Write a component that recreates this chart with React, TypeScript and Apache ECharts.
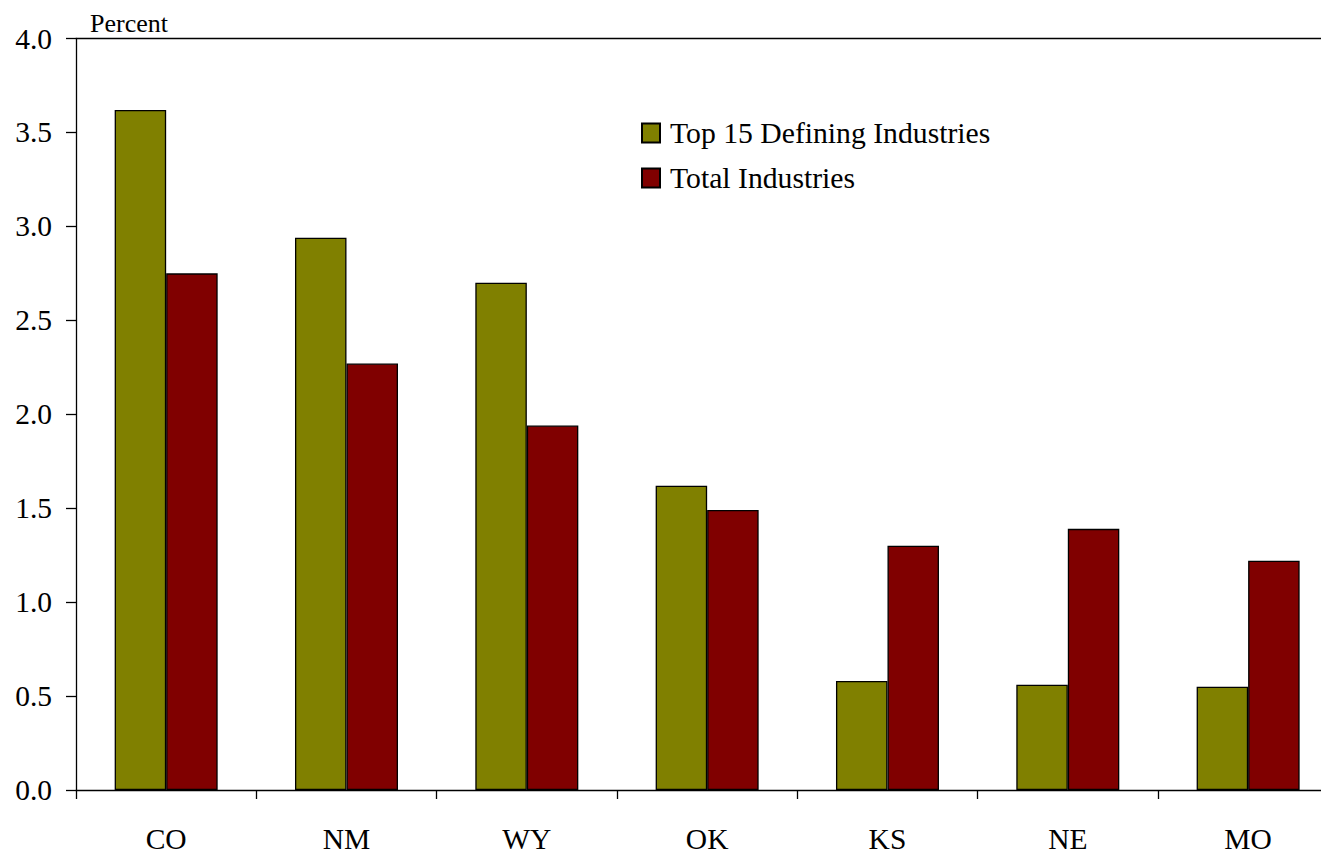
import React, { useEffect, useRef } from "react";
import * as echarts from "echarts";

// Employment growth by state, percent
const states = ["CO", "NM", "WY", "OK", "KS", "NE", "MO"];
const top15Defining = [3.62, 2.94, 2.7, 1.62, 0.58, 0.56, 0.55];
const totalIndustries = [2.75, 2.27, 1.94, 1.49, 1.3, 1.39, 1.22];
const seriesNames = ["Top 15 Defining Industries", "Total Industries"];
const yTicks = { min: 0, max: 4, interval: 0.5 };

const FONT = "'Liberation Serif', 'Times New Roman', serif";
const OLIVE = "#808000";
const MAROON = "#800000";

// The plot runs past the right edge of the visible frame
const CHART_W = 1345;
const CHART_H = 854;

export default function App() {
  const ref = useRef<HTMLDivElement>(null);

  useEffect(() => {
    if (!ref.current) return;
    const chart = echarts.init(ref.current, null, { renderer: "svg" });
    const axisLine = { show: true, lineStyle: { color: "#000", width: 1.3 } };
    chart.setOption({
      animation: false,
      backgroundColor: "#fff",
      title: {
        text: "Percent",
        left: 90,
        top: 10,
        padding: 0,
        textStyle: { fontFamily: FONT, fontSize: 26, fontWeight: "normal", color: "#000" },
      },
      legend: {
        data: seriesNames,
        orient: "vertical",
        left: 641,
        top: 118,
        padding: 0,
        icon: "rect",
        itemWidth: 18,
        itemHeight: 19,
        itemGap: 15,
        textStyle: { fontFamily: FONT, fontSize: 29.7, color: "#000", padding: [0, 0, 0, 5] },
      },
      grid: { left: 76, top: 38.5, bottom: 62.3, width: 1262.3, containLabel: false },
      xAxis: [
        {
          type: "category",
          data: states,
          position: "bottom",
          axisLine,
          axisTick: { show: true, length: 9, lineStyle: { color: "#000", width: 1.3 } },
          axisLabel: { fontFamily: FONT, fontSize: 29.5, color: "#000", margin: 34 },
          splitLine: { show: false },
        },
        {
          type: "category",
          data: states,
          position: "top",
          axisLine,
          axisTick: { show: false },
          axisLabel: { show: false },
          splitLine: { show: false },
        },
      ],
      yAxis: {
        type: "value",
        min: yTicks.min,
        max: yTicks.max,
        interval: yTicks.interval,
        axisLine,
        axisTick: { show: true, length: 10, lineStyle: { color: "#000", width: 1.3 } },
        axisLabel: {
          fontFamily: FONT,
          fontSize: 29.5,
          color: "#000",
          margin: 24,
          formatter: (v: number) => v.toFixed(1),
        },
        splitLine: { show: false },
      },
      series: [
        {
          name: seriesNames[0],
          type: "bar",
          data: top15Defining,
          barWidth: 51.5,
          barGap: "0%",
          itemStyle: { color: OLIVE, borderColor: "#000", borderWidth: 1.3 },
        },
        {
          name: seriesNames[1],
          type: "bar",
          data: totalIndustries,
          barWidth: 51.5,
          barGap: "0%",
          itemStyle: { color: MAROON, borderColor: "#000", borderWidth: 1.3 },
        },
      ],
    });
    return () => chart.dispose();
  }, []);

  return (
    <div
      style={{ position: "absolute", left: 0, top: 0, width: 1321, height: 854, overflow: "hidden", background: "#fff" }}
    >
      <div ref={ref} style={{ width: CHART_W, height: CHART_H }} />
    </div>
  );
}
